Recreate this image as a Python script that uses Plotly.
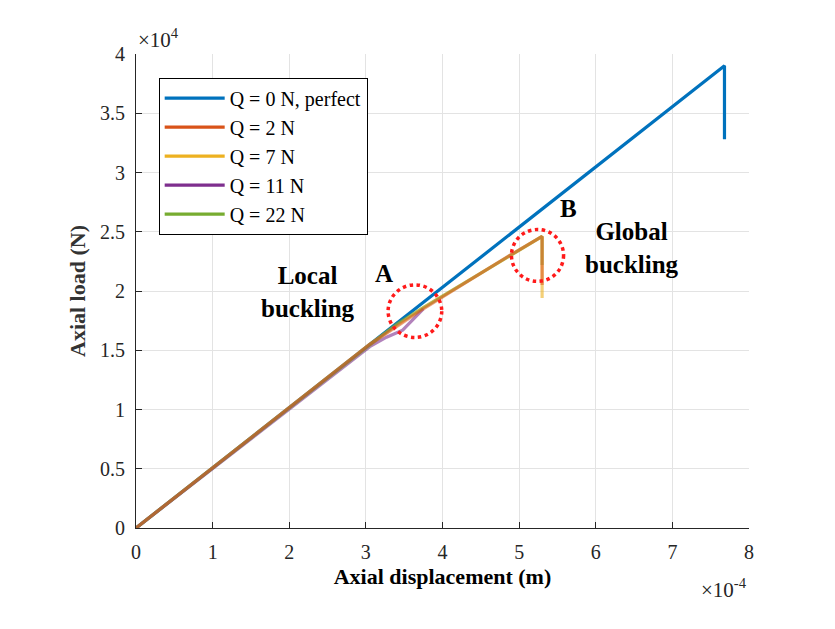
import plotly.graph_objects as go

# ---- data (axial displacement in m, axial load in N) ----
disp_q0 = [0.0, 7.68e-4, 7.68e-4]
load_q0 = [0.0, 3.90e4, 3.28e4]

disp_q2 = [0.0, 3.05e-4, 3.40e-4, 3.75e-4, 4.90e-4, 5.30e-4, 5.30e-4]
load_q2 = [0.0, 1.55e4, 1.70e4, 1.85e4, 2.31e4, 2.46e4, 2.05e4]

disp_q7 = [0.0, 3.05e-4, 3.40e-4, 3.75e-4, 5.30e-4, 5.30e-4]
load_q7 = [0.0, 1.55e4, 1.71e4, 1.86e4, 2.46e4, 1.94e4]

disp_q11 = [0.0, 3.05e-4, 3.27e-4, 3.48e-4, 3.75e-4]
load_q11 = [0.0, 1.53e4, 1.61e4, 1.67e4, 1.85e4]

disp_q22 = [0.0, 3.00e-4, 3.40e-4, 3.75e-4, 5.30e-4, 5.30e-4]
load_q22 = [0.0, 1.52e4, 1.72e4, 1.86e4, 2.46e4, 2.22e4]

labels = ["Q = 0 N, perfect", "Q = 2 N", "Q = 7 N", "Q = 11 N", "Q = 22 N"]
colors = ["#0072BD", "#D95319", "#EDB120", "#7E2F8E", "#77AC30"]
rgba = ["rgba(0,114,189,1)", "rgba(217,83,25,0.55)", "rgba(237,177,32,0.6)",
        "rgba(126,47,142,0.6)", "rgba(119,172,48,0.5)"]

x_ticks = [0, 1e-4, 2e-4, 3e-4, 4e-4, 5e-4, 6e-4, 7e-4, 8e-4]
x_ticktext = ["0", "1", "2", "3", "4", "5", "6", "7", "8"]
y_ticks = [0, 5e3, 1e4, 1.5e4, 2e4, 2.5e4, 3e4, 3.5e4, 4e4]
y_ticktext = ["0", "0.5", "1", "1.5", "2", "2.5", "3", "3.5", "4"]

# circles marking regions A and B: (center x, center y, radius x, radius y)
circle_a = (3.64e-4, 1.83e4, 0.35e-4, 0.222e4)
circle_b = (5.24e-4, 2.30e4, 0.34e-4, 0.219e4)

SERIF = "Liberation Serif, Times New Roman, serif"
TXT = "#262626"

series = {
    0: (disp_q0, load_q0),
    1: (disp_q2, load_q2),
    2: (disp_q7, load_q7),
    3: (disp_q11, load_q11),
    4: (disp_q22, load_q22),
}

fig = go.Figure()
# data traces (drawn in an order that gives the blended look of the overlaps)
for i in [0, 2, 3, 4, 1]:
    xs, ys = series[i]
    fig.add_trace(go.Scatter(x=xs, y=ys, mode="lines", showlegend=False,
                             line=dict(color=rgba[i], width=3.2), hoverinfo="skip"))
# legend entries (solid colours)
for i in range(5):
    fig.add_trace(go.Scatter(x=[None], y=[None], mode="lines", name=labels[i],
                             line=dict(color=colors[i], width=3.2)))

for (cx, cy, rx, ry) in (circle_a, circle_b):
    fig.add_shape(type="circle", xref="x", yref="y",
                  x0=cx - rx, x1=cx + rx, y0=cy - ry, y1=cy + ry,
                  line=dict(color="#FF1A1A", width=3.5, dash="dot"))

ann_font = dict(family=SERIF, size=25, color="black")
fig.add_annotation(x=2.25e-4, y=1.99e4, text="<b>Local<br>buckling</b>", showarrow=False,
                   font=ann_font)
fig.add_annotation(x=3.24e-4, y=2.15e4, text="<b>A</b>", showarrow=False, font=ann_font)
fig.add_annotation(x=5.64e-4, y=2.70e4, text="<b>B</b>", showarrow=False, font=ann_font)
fig.add_annotation(x=6.47e-4, y=2.36e4, text="<b>Global<br>buckling</b>", showarrow=False,
                   font=ann_font)

fig.add_annotation(xref="paper", yref="paper", x=0.0, y=1.0, xanchor="left", yanchor="bottom",
                   text="×10<sup>4</sup>", showarrow=False,
                   font=dict(family=SERIF, size=21, color=TXT))
fig.add_annotation(xref="paper", yref="paper", x=1.0, y=-0.095, xanchor="right", yanchor="top",
                   text="×10<sup>-4</sup>", showarrow=False,
                   font=dict(family=SERIF, size=21, color=TXT))

axis_common = dict(showgrid=True, gridcolor="#E3E3E3", gridwidth=1, zeroline=False,
                   showline=True, linecolor=TXT, linewidth=1, mirror=False,
                   ticks="inside", ticklen=6, tickcolor=TXT,
                   tickfont=dict(family=SERIF, size=20, color=TXT))

fig.update_xaxes(range=[0, 8e-4], tickvals=x_ticks, ticktext=x_ticktext,
                 ticklabelstandoff=6,
                 title=dict(text="<b>Axial displacement (m)</b>", standoff=6,
                            font=dict(family=SERIF, size=22, color="black")),
                 **axis_common)
fig.update_yaxes(range=[0, 4e4], tickvals=y_ticks, ticktext=y_ticktext,
                 ticklabelstandoff=6,
                 title=dict(text="<b>Axial load (N)</b>", standoff=8,
                            font=dict(family=SERIF, size=22, color="#333333")),
                 **axis_common)

fig.update_layout(
    width=835, height=629,
    margin=dict(l=136, r=86, t=54, b=101),
    paper_bgcolor="white", plot_bgcolor="white",
    legend=dict(x=0.037, y=0.95, xanchor="left", yanchor="top",
                bgcolor="white", bordercolor="black", borderwidth=1,
                font=dict(family=SERIF, size=20, color="black"),
                itemwidth=60, tracegroupgap=0),
)

fig.write_html("out.html")
